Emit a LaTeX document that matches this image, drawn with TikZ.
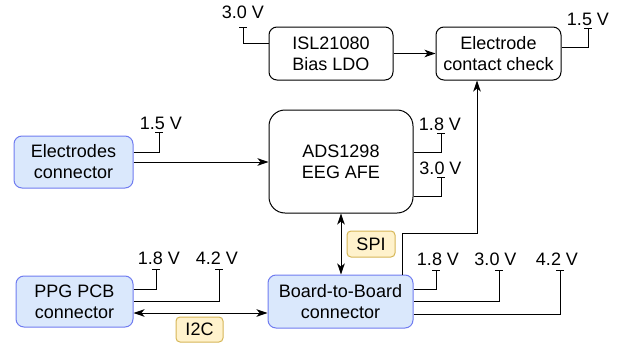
\documentclass[tikz,border=0pt]{standalone}
\usepackage{fontspec}
\setmainfont{Liberation Sans}
\usetikzlibrary{arrows.meta}
\definecolor{bfill}{HTML}{DAE8FC}
\definecolor{bdraw}{RGB}{112,124,240}
\definecolor{yfill}{HTML}{FFF2CC}
\definecolor{ydraw}{HTML}{D6B656}
\tikzset{
  box/.style={draw=black, fill=white, line width=1pt, rounded corners=8pt, align=center,
    inner sep=0pt, font=\fontsize{18}{21}\selectfont},
  bluebox/.style={box, draw=bdraw, fill=bfill},
  tag/.style={draw=ydraw, fill=yfill, line width=1pt, rounded corners=4pt, inner sep=0pt,
    font=\fontsize{18}{21}\selectfont},
  conn/.style={line width=1pt},
  tipa/.tip={Stealth[length=11pt,width=7.5pt,inset=3pt]},
  arr/.style={conn, -tipa},
  arrs/.style={conn, tipa-tipa},
  vcc/.style={conn, -{Bar[width=8pt]}},
  vlab/.style={anchor=base, inner sep=0pt, font=\fontsize{18}{21}\selectfont},
}
\begin{document}
\begin{tikzpicture}[x=1pt,y=-1pt]
\useasboundingbox (0,0) rectangle (619,343);

% blocks
\node[box, minimum width=124pt, minimum height=53pt] (isl) at (331,53.5) {ISL21080\\Bias LDO};
\node[box, minimum width=125pt, minimum height=53pt] (ecc) at (498.5,53.5) {Electrode\\contact check};
\node[bluebox, minimum width=119pt, minimum height=52pt] (elec) at (73.5,162) {Electrodes\\connector};
\node[box, rounded corners=16pt, minimum width=144pt, minimum height=103pt] (ads) at (341,161.5) {ADS1298\\EEG AFE};
\node[bluebox, minimum width=117pt, minimum height=51pt] (ppg) at (74.5,301.5) {PPG PCB\\connector};
\node[bluebox, minimum width=145pt, minimum height=53pt] (b2b) at (340.5,301.5) {Board-to-Board\\connector};
\node[tag, minimum width=48pt, minimum height=26pt] (spi) at (371,244) {SPI};
\node[tag, minimum width=47pt, minimum height=25pt] (i2c) at (199.5,329.5) {I2C};

% supply tops
\coordinate (v1) at (243,27);
\coordinate (v2) at (588,28);
\coordinate (v3) at (159,132);
\coordinate (v4) at (441,133);
\coordinate (v5) at (441,177);
\coordinate (v6) at (156,269);
\coordinate (v7) at (219,269);
\coordinate (v8) at (436,270);
\coordinate (v9) at (499,270);
\coordinate (v10) at (560,270);
\coordinate (j1) at (477,233);

% supply lines
\draw[vcc] ([yshift=10.5pt]isl.west) -| (v1);
\draw[vcc] ([yshift=6.5pt]ecc.east) -| (v2);
\draw[vcc] ([yshift=10pt]elec.east) -| (v3);
\draw[vcc] ([yshift=9.5pt]ads.east) -| (v4);
\draw[vcc] ([yshift=-34.5pt]ads.east) -| (v5);
\draw[vcc] ([yshift=12.5pt]ppg.east) -| (v6);
\draw[vcc] (ppg.east) -| (v7);
\draw[vcc] ([yshift=12.5pt]b2b.east) -| (v8);
\draw[vcc] (b2b.east) -| (v9);
\draw[vcc] ([yshift=-12.5pt]b2b.east) -| (v10);

% supply labels
\node[vlab] (l1) at ([yshift=9pt]v1) {3.0 V};
\node[vlab] (l2) at ([yshift=3pt]v2) {1.5 V};
\node[vlab] (l3) at ([xshift=2pt,yshift=2.5pt]v3) {1.5 V};
\node[vlab] (l4) at ([xshift=-1pt,yshift=3pt]v4) {1.8 V};
\node[vlab] (l5) at ([xshift=-0.5pt,yshift=2.5pt]v5) {3.0 V};
\node[vlab] (l6) at ([xshift=3pt,yshift=4.5pt]v6) {1.8 V};
\node[vlab] (l7) at ([xshift=-2pt,yshift=4.5pt]v7) {4.2 V};
\node[vlab] (l8) at ([xshift=2pt,yshift=5pt]v8) {1.8 V};
\node[vlab] (l9) at ([xshift=-3.5pt,yshift=5pt]v9) {3.0 V};
\node[vlab] (l10) at ([xshift=-3pt,yshift=5pt]v10) {4.2 V};

% signal connectors
\draw[arr] (isl.east) -- (ecc.west);
\draw[arr] (elec.east) -- (elec.east -| ads.west);
\draw[arrs] (ads.south) -- (ads.south |- b2b.north);
\draw[arr] ([xshift=-11pt]b2b.north east) |- (j1) -- (ecc.south -| j1);
\draw[arrs] ([yshift=-11.5pt]ppg.east) -- ([yshift=-11.5pt]ppg.east -| b2b.west);
\end{tikzpicture}
\end{document}
